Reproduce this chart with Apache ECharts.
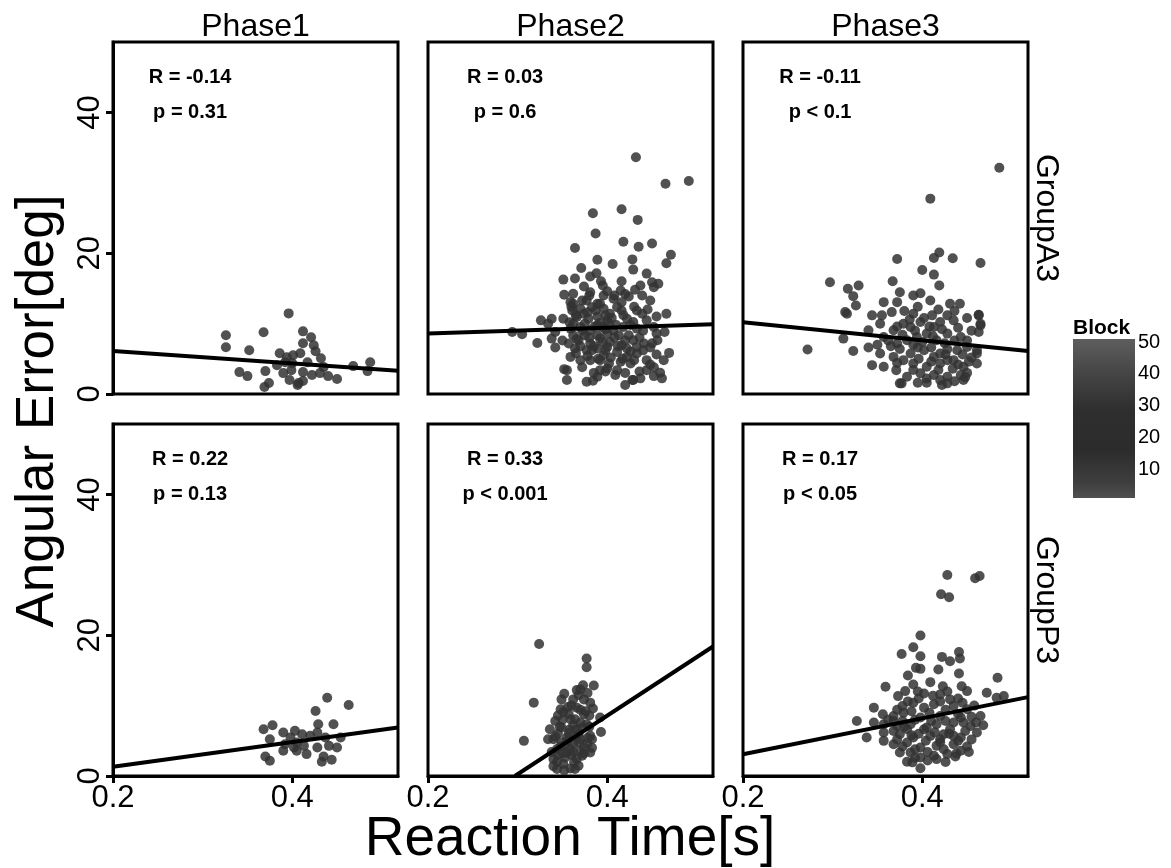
<!DOCTYPE html>
<html><head><meta charset="utf-8">
<script src="https://cdn.jsdelivr.net/npm/echarts@6/dist/echarts.min.js"></script>
<style>html,body{margin:0;padding:0;background:#fff}#c{width:1171px;height:868px}</style>
</head><body><div id="c"></div>
<script>
// ---------- data ----------
const phases = ['Phase1', 'Phase2', 'Phase3'];
const groups = ['GroupA3', 'GroupP3'];
const rLabels = [['R = -0.14', 'R = 0.03', 'R = -0.11'], ['R = 0.22', 'R = 0.33', 'R = 0.17']];
const pLabels = [['p = 0.31', 'p = 0.6', 'p < 0.1'], ['p = 0.13', 'p < 0.001', 'p < 0.05']];
const annotX = 0.286, annotRY = 45, annotPY = 40;
const yTicks = [0, 20, 40];
const xTicks = [0.2, 0.4];
const blockTicks = [10, 20, 30, 40, 50];
const xTitle = 'Reaction Time[s]';
const yTitle = 'Angular Error[deg]';
const legendTitle = 'Block';
// regression lines: [x0, y0, x1, y1]
const fitA3 = [[0.2, 6.1, 0.518, 3.3], [0.2, 8.6, 0.518, 9.9], [0.2, 10.2, 0.518, 6.1]];
const fitP3 = [[0.2, 1.3, 0.518, 6.9], [0.297, 0, 0.518, 18.4], [0.2, 3.1, 0.518, 11.2]];

const a3p1 = [[0.396,11.45],[0.326,8.34],[0.326,6.64],[0.368,8.76],[0.352,6.22],[0.412,8.90],[0.421,8.06],[0.412,7.21],[0.424,6.93],[0.426,6.08],[0.386,5.80],[0.394,5.23],[0.401,5.51],[0.409,5.80],[0.432,5.09],[0.383,4.10],[0.392,4.52],[0.400,4.38],[0.417,4.52],[0.435,3.82],[0.468,3.96],[0.487,4.52],[0.484,3.25],[0.341,3.11],[0.350,2.54],[0.370,3.25],[0.390,2.97],[0.399,3.39],[0.412,3.11],[0.422,2.69],[0.431,2.97],[0.440,2.54],[0.450,2.12],[0.397,1.98],[0.407,1.55],[0.412,1.84],[0.374,1.55],[0.369,0.99],[0.406,1.27]];

const a3p2 = [[0.432,33.64],[0.465,29.87],[0.491,30.25],[0.384,25.68],[0.416,26.25],[0.434,24.73],[0.387,22.80],[0.364,20.73],[0.418,21.63],[0.435,20.92],[0.450,21.39],[0.471,19.79],[0.389,19.08],[0.406,18.47],[0.428,19.12],[0.466,18.56],[0.371,17.91],[0.429,17.67],[0.444,17.10],[0.388,17.15],[0.351,16.25],[0.364,16.40],[0.381,16.68],[0.393,16.01],[0.416,16.01],[0.450,15.87],[0.457,15.65],[0.452,15.17],[0.374,15.27],[0.415,14.70],[0.431,14.80],[0.352,14.09],[0.362,14.23],[0.381,14.46],[0.396,13.99],[0.424,13.85],[0.439,13.99],[0.359,13.05],[0.372,13.29],[0.389,12.82],[0.407,13.53],[0.416,13.05],[0.448,13.29],[0.361,11.87],[0.370,12.11],[0.383,12.34],[0.396,12.11],[0.403,11.41],[0.416,11.87],[0.433,11.87],[0.439,11.41],[0.466,11.41],[0.455,11.02],[0.326,10.46],[0.338,10.70],[0.351,10.70],[0.366,10.93],[0.379,10.70],[0.389,11.02],[0.400,10.46],[0.422,10.70],[0.429,10.22],[0.444,10.46],[0.294,8.81],[0.305,8.48],[0.334,9.99],[0.342,8.81],[0.359,9.29],[0.370,9.51],[0.381,9.05],[0.394,9.51],[0.407,9.05],[0.418,9.51],[0.433,9.29],[0.452,9.51],[0.464,8.81],[0.322,7.25],[0.338,7.87],[0.342,6.60],[0.357,7.17],[0.368,7.63],[0.381,7.17],[0.392,7.87],[0.403,7.39],[0.416,6.93],[0.429,7.63],[0.441,7.17],[0.456,7.63],[0.448,6.60],[0.359,5.27],[0.370,4.81],[0.383,6.22],[0.396,5.51],[0.411,5.98],[0.422,5.27],[0.433,5.75],[0.444,4.81],[0.463,4.81],[0.469,5.84],[0.402,4.34],[0.355,3.39],[0.355,1.98],[0.377,1.74],[0.389,2.45],[0.400,3.63],[0.409,2.69],[0.420,1.27],[0.429,1.98],[0.437,2.22],[0.444,3.39],[0.459,3.01],[0.461,2.22],[0.452,2.54],[0.352,3.53],[0.384,1.88],[0.428,1.98],[0.362,12.82],[0.377,13.29],[0.392,12.82],[0.374,11.41],[0.387,11.87],[0.398,11.17],[0.411,12.34],[0.362,9.99],[0.375,9.99],[0.389,9.75],[0.402,9.99],[0.413,8.34],[0.362,8.34],[0.375,8.34],[0.389,8.34],[0.400,8.58],[0.424,8.34],[0.364,6.46],[0.377,6.22],[0.389,6.46],[0.400,6.69],[0.422,6.46],[0.433,6.69],[0.381,4.81],[0.392,4.81],[0.415,4.57],[0.426,4.34],[0.411,3.39],[0.392,3.39],[0.365,11.2],[0.378,11.6],[0.392,10.1],[0.405,10.8],[0.418,11.2],[0.430,12.4],[0.445,12.0],[0.358,10.2],[0.372,9.0],[0.386,9.6],[0.398,9.2],[0.410,9.8],[0.426,9.8],[0.440,9.0],[0.455,8.6],[0.366,7.8],[0.380,8.0],[0.395,7.4],[0.408,8.0],[0.420,7.6],[0.436,8.0],[0.450,7.2],[0.350,7.6],[0.370,6.8],[0.385,6.8],[0.398,6.2],[0.412,6.8],[0.426,6.0],[0.440,6.2],[0.455,5.6],[0.365,5.8],[0.378,5.4],[0.390,5.0],[0.404,5.2],[0.417,5.0],[0.430,4.8],[0.448,4.2],[0.372,3.8],[0.385,3.0],[0.398,3.2],[0.420,3.0],[0.436,3.2],[0.452,3.8],[0.380,14.0],[0.400,14.6],[0.420,14.2],[0.437,15.4],[0.360,12.4],[0.395,15.4],[0.408,14.0]];

const a3p3 = [[0.486,32.13],[0.409,27.75],[0.419,20.11],[0.413,19.32],[0.434,19.27],[0.372,19.18],[0.465,18.61],[0.400,17.62],[0.413,16.96],[0.297,15.87],[0.367,16.01],[0.419,15.41],[0.317,14.94],[0.329,15.41],[0.323,13.90],[0.375,14.46],[0.390,13.99],[0.398,14.32],[0.357,13.05],[0.372,13.05],[0.409,13.29],[0.431,12.82],[0.442,12.82],[0.326,12.58],[0.314,11.63],[0.316,11.41],[0.463,11.26],[0.344,11.17],[0.355,11.17],[0.366,11.63],[0.390,11.41],[0.411,11.17],[0.428,11.17],[0.465,9.99],[0.463,8.81],[0.272,6.32],[0.312,7.87],[0.323,6.12],[0.344,4.10],[0.357,3.86],[0.371,3.39],[0.377,1.51],[0.405,1.60],[0.422,1.27],[0.446,1.98],[0.461,4.34],[0.461,5.75],[0.340,9.05],[0.353,9.99],[0.357,8.10],[0.368,9.05],[0.379,9.99],[0.398,10.22],[0.420,10.22],[0.435,10.46],[0.372,7.17],[0.383,7.63],[0.394,8.10],[0.405,8.58],[0.416,7.63],[0.428,8.58],[0.443,8.10],[0.450,6.69],[0.461,6.22],[0.439,6.22],[0.420,5.75],[0.402,6.22],[0.387,5.75],[0.368,5.27],[0.353,5.75],[0.390,4.34],[0.405,3.86],[0.420,4.34],[0.435,4.81],[0.446,3.86],[0.383,2.45],[0.398,2.93],[0.413,2.69],[0.428,2.45],[0.443,2.69],[0.375,1.51],[0.428,1.51],[0.463,11.17],[0.465,9.75],[0.387,9.51],[0.413,9.51],[0.379,4.81],[0.413,5.27],[0.428,4.81],[0.380,11.8],[0.395,12.4],[0.402,10.8],[0.418,12.0],[0.436,11.8],[0.450,10.8],[0.386,10.6],[0.372,9.6],[0.392,9.0],[0.408,9.6],[0.422,9.2],[0.440,9.4],[0.455,9.0],[0.362,7.6],[0.378,8.4],[0.390,7.0],[0.400,7.4],[0.412,8.2],[0.425,7.2],[0.436,7.6],[0.450,7.6],[0.375,6.4],[0.395,6.6],[0.410,6.6],[0.428,6.4],[0.445,5.6],[0.455,5.2],[0.372,4.4],[0.396,5.0],[0.410,4.6],[0.426,5.6],[0.440,4.2],[0.452,4.6],[0.390,3.4],[0.418,3.4],[0.434,3.6],[0.450,3.0],[0.405,2.2],[0.420,2.0],[0.436,1.8],[0.395,1.6],[0.448,2.4],[0.365,6.8],[0.350,7.0],[0.340,6.6]];

const p3p1 = [[0.439,11.12],[0.463,10.08],[0.426,9.23],[0.378,7.21],[0.429,7.35],[0.446,7.35],[0.368,6.64],[0.390,6.17],[0.403,6.41],[0.411,5.94],[0.420,5.70],[0.428,6.17],[0.375,5.23],[0.398,5.47],[0.437,5.47],[0.454,5.47],[0.392,4.52],[0.405,4.76],[0.413,4.28],[0.428,4.06],[0.441,4.28],[0.450,4.06],[0.390,3.58],[0.405,3.58],[0.416,3.11],[0.370,2.78],[0.375,2.16],[0.435,2.78],[0.433,2.02],[0.444,2.30],[0.402,4.06]];

const p3p2 = [[0.324,18.76],[0.377,16.68],[0.377,15.45],[0.385,12.86],[0.370,12.30],[0.352,11.69],[0.318,10.42],[0.362,10.88],[0.381,10.42],[0.366,9.71],[0.351,9.09],[0.374,8.76],[0.392,8.30],[0.342,7.82],[0.359,8.06],[0.377,7.35],[0.336,6.64],[0.349,6.88],[0.366,6.64],[0.393,6.26],[0.307,4.99],[0.340,5.23],[0.355,5.47],[0.370,5.23],[0.383,5.23],[0.344,3.82],[0.359,3.82],[0.374,4.06],[0.381,3.35],[0.340,2.40],[0.353,2.64],[0.366,2.40],[0.344,0.99],[0.359,1.08],[0.351,1.70],[0.348,9.47],[0.349,10.88],[0.364,8.06],[0.372,2.87],[0.349,4.76],[0.362,4.52],[0.334,5.23],[0.374,10.88],[0.381,5.70],[0.355,3.35],[0.368,1.46],[0.345,6.00],[0.357,6.10],[0.368,6.00],[0.350,8.00],[0.362,7.20],[0.372,6.90],[0.345,3.00],[0.360,3.00],[0.370,3.60],[0.352,4.30],[0.365,5.60],[0.378,4.60],[0.356,9.80],[0.368,11.50],[0.344,2.00],[0.363,2.00],[0.373,12.90],[0.380,8.60],[0.347,7.0],[0.358,6.6],[0.370,7.6],[0.380,7.0],[0.342,5.6],[0.356,5.0],[0.368,4.8],[0.378,5.4],[0.348,4.2],[0.362,3.4],[0.374,3.2],[0.338,3.4],[0.350,3.2],[0.364,1.0],[0.352,0.8],[0.370,9.4],[0.360,10.0],[0.376,9.2],[0.384,9.6],[0.366,12.2],[0.378,11.8],[0.357,8.8],[0.345,8.6],[0.383,4.0],[0.340,1.4]];

const p3p3 = [[0.428,28.55],[0.459,28.08],[0.464,28.41],[0.421,25.82],[0.430,25.40],[0.398,19.97],[0.390,18.28],[0.377,17.34],[0.398,17.00],[0.441,17.62],[0.422,16.92],[0.442,16.68],[0.431,16.30],[0.393,15.36],[0.398,15.22],[0.418,15.12],[0.384,14.28],[0.441,14.56],[0.484,13.95],[0.390,13.00],[0.409,13.33],[0.423,12.76],[0.359,12.68],[0.444,12.76],[0.381,12.06],[0.373,11.35],[0.402,11.73],[0.420,11.59],[0.431,10.88],[0.450,12.06],[0.472,11.83],[0.491,11.35],[0.483,11.12],[0.346,9.71],[0.378,9.94],[0.390,10.42],[0.402,9.71],[0.413,10.18],[0.435,9.94],[0.450,9.47],[0.356,8.76],[0.368,8.52],[0.379,9.00],[0.398,8.30],[0.420,8.52],[0.443,8.30],[0.465,8.52],[0.468,7.21],[0.327,7.82],[0.346,7.59],[0.357,7.35],[0.372,7.11],[0.387,7.35],[0.405,6.88],[0.416,7.35],[0.431,6.64],[0.454,7.11],[0.338,5.47],[0.357,6.17],[0.375,5.94],[0.390,5.47],[0.409,5.70],[0.424,5.94],[0.443,5.47],[0.461,6.17],[0.357,4.99],[0.368,4.52],[0.383,4.76],[0.398,4.06],[0.416,4.28],[0.435,4.52],[0.450,4.20],[0.387,3.35],[0.413,2.87],[0.428,3.11],[0.443,3.58],[0.383,2.02],[0.398,2.64],[0.416,2.40],[0.437,2.78],[0.398,1.09],[0.389,1.94],[0.368,7.82],[0.435,7.59],[0.402,6.64],[0.383,6.64],[0.420,5.23],[0.435,5.70],[0.375,3.35],[0.395,12.0],[0.412,11.4],[0.428,12.0],[0.440,11.0],[0.384,10.6],[0.396,11.0],[0.420,10.6],[0.445,10.4],[0.458,10.0],[0.372,9.4],[0.388,9.2],[0.408,9.0],[0.426,9.4],[0.440,8.8],[0.455,8.4],[0.362,8.0],[0.378,7.8],[0.392,8.0],[0.410,7.8],[0.426,7.8],[0.446,7.6],[0.460,7.6],[0.368,6.4],[0.380,7.0],[0.396,6.0],[0.414,6.2],[0.430,6.0],[0.448,6.4],[0.372,5.2],[0.388,5.8],[0.404,5.0],[0.420,4.8],[0.440,5.0],[0.455,5.2],[0.378,4.2],[0.392,3.8],[0.406,3.4],[0.424,3.8],[0.438,3.2],[0.452,3.4],[0.392,2.6],[0.406,2.2],[0.426,2.0]];

const blockRange = [1, 51];

// ---------- layout / build ----------
const panels = [[a3p1, a3p2, a3p3], [p3p1, p3p2, p3p3]];
const fits = [fitA3, fitP3];
const FONT = '"Liberation Sans", Arial, Helvetica, sans-serif';
const colLeft = [113, 428, 743], rowTop = [42, 424], W = 285, H = 352;
const X_MIN = 0.2, X_MAX = 0.518, Y_MIN = 0, Y_MAX = 50;

const grids = [], xAxes = [], yAxes = [], series = [], graphics = [];
let gi = 0;
for (let r = 0; r < 2; r++) {
  for (let c = 0; c < 3; c++) {
    grids.push({left: colLeft[c], top: rowTop[r], width: W, height: H, show: true,
      borderColor: '#000', borderWidth: 3, backgroundColor: 'transparent', containLabel: false});
    const showX = r === 1, showY = c === 0;
    xAxes.push({gridIndex: gi, type: 'value', min: X_MIN, max: X_MAX,
      axisLine: {show: showX, onZero: false, lineStyle: {color: '#000', width: 3}},
      axisTick: {show: showX, length: 7, customValues: xTicks, lineStyle: {color: '#000', width: 3}},
      axisLabel: {show: showX, customValues: xTicks, fontSize: 31, color: '#000', margin: 7, fontFamily: FONT,
        formatter: v => Number(v).toFixed(1)},
      splitLine: {show: false}});
    yAxes.push({gridIndex: gi, type: 'value', min: Y_MIN, max: Y_MAX,
      axisLine: {show: showY, onZero: false, lineStyle: {color: '#000', width: 3}},
      axisTick: {show: showY, length: 7, customValues: yTicks, lineStyle: {color: '#000', width: 3}},
      axisLabel: {show: showY, customValues: yTicks, rotate: 90, fontSize: 31, color: '#000', margin: 7, fontFamily: FONT},
      splitLine: {show: false}});
    series.push({type: 'scatter', xAxisIndex: gi, yAxisIndex: gi, data: panels[r][c], symbolSize: 10,
      itemStyle: {color: 'rgb(50,50,50)', opacity: 0.85}, silent: true, z: 2});
    const f = fits[r][c];
    series.push({type: 'line', xAxisIndex: gi, yAxisIndex: gi, data: [[f[0], f[1]], [f[2], f[3]]],
      symbol: 'none', lineStyle: {color: '#000', width: 4}, z: 3, clip: true, silent: true});
    const labs = [rLabels[r][c], pLabels[r][c]];
    series.push({type: 'scatter', xAxisIndex: gi, yAxisIndex: gi, data: [[annotX, annotRY], [annotX, annotPY]],
      symbolSize: 1, itemStyle: {color: 'rgba(0,0,0,0)'}, silent: true, z: 4,
      label: {show: true, position: 'inside', formatter: p => labs[p.dataIndex], color: '#000', opacity: 1,
        textBorderWidth: 0, fontSize: 20, fontWeight: 'bold', fontFamily: FONT}});
    gi++;
  }
}

// colour bar (Block)
const cbGrid = gi;
grids.push({left: 1073, top: 339, width: 62, height: 159, show: false});
xAxes.push({gridIndex: cbGrid, type: 'category', data: [''], show: false});
yAxes.push({gridIndex: cbGrid, type: 'value', min: blockRange[0], max: blockRange[1], position: 'right',
  axisLine: {show: false},
  axisTick: {show: true, inside: true, length: 12, customValues: blockTicks, lineStyle: {color: 'rgba(255,255,255,0.3)', width: 1}},
  axisLabel: {show: true, customValues: blockTicks, fontSize: 20, color: '#000', margin: 3, fontFamily: FONT},
  splitLine: {show: false}});
yAxes.push({gridIndex: cbGrid, type: 'value', min: blockRange[0], max: blockRange[1], position: 'left',
  axisLine: {show: false},
  axisTick: {show: true, inside: true, length: 12, customValues: blockTicks, lineStyle: {color: 'rgba(255,255,255,0.3)', width: 1}},
  axisLabel: {show: false}, splitLine: {show: false}});
series.push({type: 'bar', xAxisIndex: cbGrid, yAxisIndex: cbGrid, data: [blockRange[1]], barWidth: '100%', clip: true, silent: true,
  itemStyle: {color: new echarts.graphic.LinearGradient(0, 0, 0, 1, [
    {offset: 0, color: '#5e5e5e'}, {offset: 0.2, color: '#474747'}, {offset: 0.45, color: '#2e2e2e'},
    {offset: 0.7, color: '#2c2c2c'}, {offset: 0.9, color: '#3e3e3e'}, {offset: 1, color: '#505050'}])}});

// strip labels and titles
for (let c = 0; c < 3; c++) {
  graphics.push({type: 'text', x: colLeft[c] + W / 2, y: 27, style: {text: phases[c], font: '32px ' + FONT,
    fill: '#000', textAlign: 'center', textVerticalAlign: 'middle'}});
}
for (let r = 0; r < 2; r++) {
  graphics.push({type: 'text', x: 1046, y: rowTop[r] + H / 2, rotation: -Math.PI / 2,
    style: {text: groups[r], font: '32px ' + FONT, fill: '#000', textAlign: 'center', textVerticalAlign: 'middle'}});
}
graphics.push({type: 'text', x: 38, y: 411, rotation: Math.PI / 2,
  style: {text: yTitle, font: '53px ' + FONT, fill: '#000', textAlign: 'center', textVerticalAlign: 'middle'}});
graphics.push({type: 'text', x: 570, y: 840,
  style: {text: xTitle, font: '55px ' + FONT, fill: '#000', textAlign: 'center', textVerticalAlign: 'middle'}});
graphics.push({type: 'text', x: 1073, y: 328,
  style: {text: legendTitle, font: 'bold 21px ' + FONT, fill: '#000', textAlign: 'left', textVerticalAlign: 'middle'}});

const chart = echarts.init(document.getElementById('c'), null, {renderer: 'canvas'});
chart.setOption({animation: false, backgroundColor: '#fff', grid: grids, xAxis: xAxes, yAxis: yAxes,
  series: series, graphic: graphics});
</script></body></html>
